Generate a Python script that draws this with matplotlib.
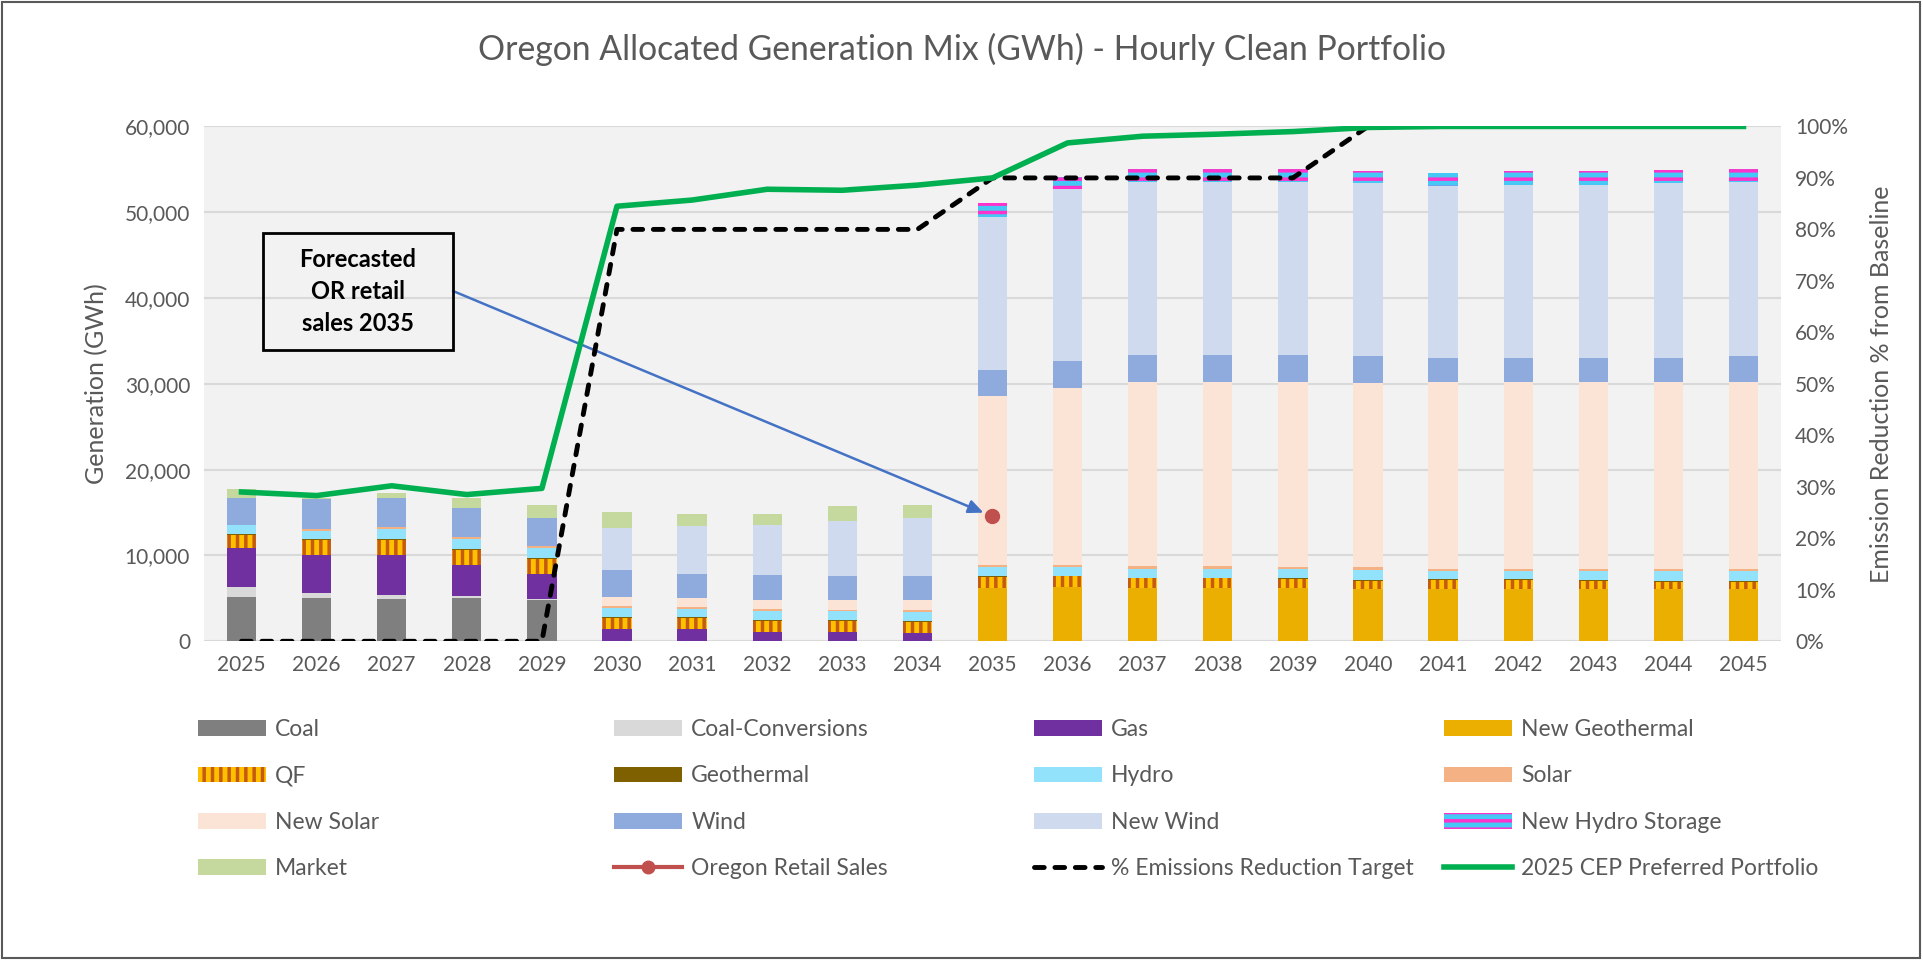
import matplotlib.pyplot as plt
import numpy as np
from matplotlib.patches import Patch, Rectangle
from matplotlib.lines import Line2D
from matplotlib.ticker import FuncFormatter

plt.rcParams['font.family'] = ['Lato', 'DejaVu Sans']
plt.rcParams['hatch.linewidth'] = 2.5

years = list(range(2025, 2046))

# GWh by resource
coal = [5210, 5020, 4900, 5020, 4830] + [0] * 16
coal_conv = [1170, 580, 550, 270, 150] + [0] * 16
gas = [4440, 4480, 4630, 3580, 2880, 1440, 1440, 1130, 1130, 970] + [0] * 11
new_geo = [0] * 10 + [6190, 6380, 6190, 6190, 6190, 6070, 6070, 6070, 6070, 6070, 6070]
qf = [1550, 1710, 1710, 1750, 1750, 1280, 1320, 1280, 1200, 1330,
      1280, 1170, 1160, 1160, 1090, 1010, 1090, 1090, 970, 890, 890]
geothermal = [120, 110, 110, 110, 110, 110, 110, 110, 110, 110,
              80, 80, 80, 80, 80, 80, 80, 80, 80, 80, 80]
hydro = [1050, 980, 1170, 1180, 1100, 1020, 940, 1020, 1100, 980,
         1050, 1010, 1010, 1010, 1080, 1170, 930, 930, 1050, 1130, 1130]
solar = [60, 230, 200, 270, 270, 275, 200, 270, 160, 270,
         310, 270, 310, 310, 160, 270, 270, 270, 270, 270, 270]
new_solar = [0] * 5 + [1015, 1010, 1020, 1130, 1170,
                       19650, 20580, 21480, 21480, 21630, 21520, 21790, 21790, 21790, 21790, 21790]
wind = [3050, 3430, 3380, 3310, 3230, 3190, 2840, 2910, 2720, 2720,
        3040, 3200, 3190, 3190, 3190, 3150, 2840, 2840, 2840, 2840, 3000]
new_wind = [0] * 5 + [4860, 5530, 5800, 6460, 6850,
                      17890, 20000, 20120, 20120, 20120, 20120, 20000, 20160, 20160, 20390, 20310]
hydro_storage = [0] * 10 + [1640, 1430, 1480, 1480, 1480, 1430, 1560, 1520, 1520, 1440, 1520]
market = [1090, 110, 630, 1160, 1590, 1830, 1470, 1320, 1750, 1520] + [0] * 11

retail_sales = [np.nan] * 10 + [14550] + [np.nan] * 10
target = [0] * 5 + [80] * 5 + [90] * 5 + [100] * 6
cep = [29.0, 28.3, 30.2, 28.5, 29.7, 84.5, 85.7, 87.8, 87.6, 88.6,
       90.0, 96.8, 98.1, 98.5, 99.0, 99.8, 100, 100, 100, 100, 100]

series = [
    ('Coal', coal, '#7F7F7F', None, None),
    ('Coal-Conversions', coal_conv, '#D9D9D9', None, None),
    ('Gas', gas, '#7030A0', None, None),
    ('New Geothermal', new_geo, '#EAAF00', None, None),
    ('QF', qf, '#FFC000', '||', '#C55A11'),
    ('Geothermal', geothermal, '#7F6000', None, None),
    ('Hydro', hydro, '#93E2FC', None, None),
    ('Solar', solar, '#F4B183', None, None),
    ('New Solar', new_solar, '#FBE3D6', None, None),
    ('Wind', wind, '#8FAADC', None, None),
    ('New Wind', new_wind, '#CFDAEE', None, None),
    ('New Hydro Storage', hydro_storage, '#45C8F5', '--', '#FF33CC'),
    ('Market', market, '#C5D89E', None, None),
]

grey = '#595959'

fig = plt.figure(figsize=(19.24, 9.6), dpi=100)
ax = fig.add_axes([0.106, 0.332, 0.8197, 0.5363])
ax.set_facecolor('#F2F2F2')
ax.set_axisbelow(True)

x = np.arange(len(years))
bottom = np.zeros(len(years))
handles = []
for name, vals, color, hatch, hcol in series:
    vals = np.array(vals, dtype=float)
    ax.bar(x, vals, 0.39, bottom=bottom, color=color, hatch=hatch,
           edgecolor=hcol if hcol else color, linewidth=0, zorder=2)
    bottom += vals
    handles.append(Patch(facecolor=color, hatch=hatch,
                         edgecolor=hcol if hcol else color, linewidth=0, label=name))

ax.plot(x, retail_sales, color='#C0504D', lw=3, marker='o', ms=10, zorder=4)

ax.set_xlim(-0.5, len(years) - 0.5)
ax.set_ylim(0, 60000)
ax.set_yticks(range(0, 60001, 10000))
ax.yaxis.set_major_formatter(FuncFormatter(lambda v, p: f'{int(v):,}'))
ax.set_xticks(x)
ax.set_xticklabels(years)
ax.yaxis.grid(True, color='#D9D9D9', lw=1.5)
ax.tick_params(length=0, labelsize=15, colors=grey, pad=10)
for s in ax.spines.values():
    s.set_visible(False)
ax.set_ylabel('Generation (GWh)', fontsize=18, color=grey, labelpad=12)

ax2 = ax.twinx()
ax2.plot(x, target, color='black', lw=3.5, dashes=(2, 2.2), dash_capstyle='round')
ax2.plot(x, cep, color='#00B050', lw=4)
ax2.set_ylim(0, 100)
ax2.set_yticks(range(0, 101, 10))
ax2.set_yticklabels([f'{v}%' for v in range(0, 101, 10)])
ax2.tick_params(length=0, labelsize=15, colors=grey, pad=10)
for s in ax2.spines.values():
    s.set_visible(False)
ax2.set_ylabel('Emission Reduction % from Baseline', fontsize=18, color=grey, labelpad=16)

fig.text(0.5, 0.949, 'Oregon Allocated Generation Mix (GWh) - Hourly Clean Portfolio',
         ha='center', va='center', fontsize=24.3, color=grey)

# annotation box and arrow
fig.patches.append(Rectangle((263 / 1924, 1 - 350 / 960), 190 / 1924, 117 / 960,
                             transform=fig.transFigure, fill=False, ec='black', lw=2))
fig.text(358 / 1924, 1 - 291.5 / 960, 'Forecasted\nOR retail\nsales 2035', ha='center',
         va='center', fontsize=17, fontweight='bold', linespacing=1.45)
ax.annotate('', xy=(10, 14550), xytext=(453, 960 - 291), textcoords='figure pixels',
            annotation_clip=False,
            arrowprops=dict(arrowstyle='-|>,head_length=0.9,head_width=0.4', color='#4472C4',
                            lw=1.8, shrinkA=0, shrinkB=7))

handles.append(Line2D([], [], color='#C0504D', lw=3, marker='o', ms=9, label='Oregon Retail Sales'))
handles.append(Line2D([], [], color='black', lw=3.5, dashes=(2, 2.2), dash_capstyle='round',
                      label='% Emissions Reduction Target'))
handles.append(Line2D([], [], color='#00B050', lw=4, label='2025 CEP Preferred Portfolio'))

col_x = [198, 614, 1034, 1444]
for c in range(4):
    col = [handles[c + 4 * r] for r in range(4)]
    fig.legend(handles=col, loc='upper left', bbox_to_anchor=(col_x[c] / 1924, 1 - 719 / 960),
               frameon=False, fontsize=16.5, labelcolor=grey, handlelength=2.95, handleheight=0.68,
               handletextpad=0.42, labelspacing=1.11, borderpad=0, borderaxespad=0)

fig.patches.append(Rectangle((0.001, 0.002), 0.997, 0.996, transform=fig.transFigure,
                             fill=False, ec='#595959', lw=1.5))

fig.savefig('out.png', dpi=100)
